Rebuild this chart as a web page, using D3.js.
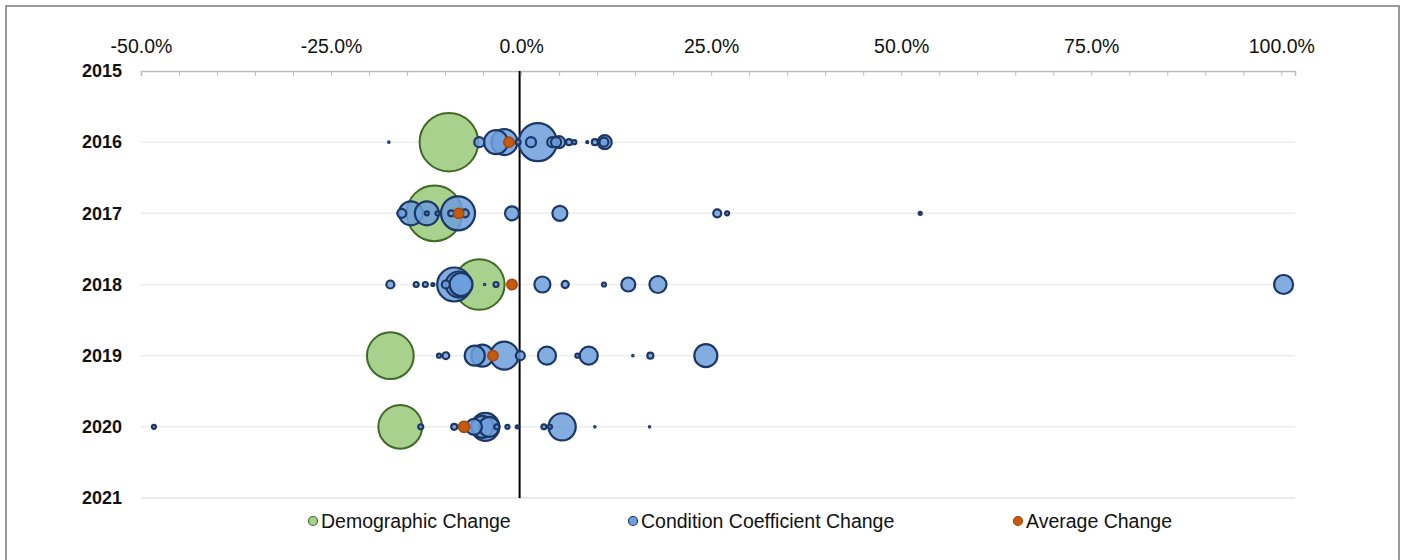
<!DOCTYPE html>
<html>
<head>
<meta charset="utf-8">
<script src="https://cdn.jsdelivr.net/npm/d3@7"></script>
<style>
  body { margin: 0; background: #fff; }
  svg text { font-family: "Liberation Sans", Arial, sans-serif; }
</style>
</head>
<body>
<svg id="chart" width="1405" height="560"></svg>
<script>
// ── DATA ──
const years = [2015, 2016, 2017, 2018, 2019, 2020, 2021];
const xTickLabels = [-50, -25, 0, 25, 50, 75, 100];

// one demographic bubble per year: [% change, weight]
const demographicPct = [-9.5, -11.4, -5.5, -17.2, -15.9];
const demographicSize = [102, 92, 76, 65, 57];
const bubbleYears = [2016, 2017, 2018, 2019, 2020];

// average change per year
const averagePct = [-1.6, -8.2, -1.2, -3.7, -7.5];
const averageSize = [3.2, 3.2, 3.2, 3.2, 3.8];

// condition coefficient change: [% change, weight]
const condition2016 = [
  [-17.4, 0.06], [-5.5, 3.0], [-3.3, 17], [-2.2, 20], [-0.4, 0.74], [1.3, 3.0],
  [2.2, 42.9], [4.1, 3.0], [4.6, 3.0], [5.0, 4.3], [6.3, 1.07], [7.0, 0.48],
  [8.7, 0.12], [9.7, 1.07], [11.0, 5.8], [10.9, 2.4],
];
const condition2017 = [
  [-15.7, 2.4], [-14.5, 17.1], [-12.4, 17.1], [-12.4, 0.48], [-11.0, 0.48],
  [-9.2, 1.07], [-8.3, 34.4], [-7.4, 1.9], [-1.2, 5.8], [5.1, 6.7],
  [25.8, 1.9], [27.1, 0.48], [52.5, 0.27],
];
const condition2018 = [
  [-17.2, 1.9], [-13.8, 0.74], [-12.6, 0.74], [-11.6, 0.27], [-9.9, 1.9],
  [-8.8, 34.4], [-8.2, 20.1], [-7.9, 15.7], [-4.8, 0.06], [-3.3, 0.74],
  [2.8, 7.6], [5.8, 1.5], [10.9, 0.48], [14.1, 5.8], [18.0, 8.6], [100.3, 10.7],
];
const condition2019 = [
  [-10.8, 0.48], [-9.9, 1.4], [-6.1, 11.9], [-5.1, 14.4], [-2.2, 23.3],
  [-0.1, 2.4], [3.4, 9.6], [7.4, 0.48], [8.9, 9.6], [14.7, 0.06],
  [17.0, 1.07], [24.3, 15.7],
];
const condition2020 = [
  [-48.3, 0.48], [-13.2, 0.74], [-8.8, 1.07], [-6.2, 7.6], [-5.1, 14.4],
  [-4.7, 23.3], [-4.2, 11.9], [-3.2, 0.74], [-1.8, 0.48], [-0.5, 0.27],
  [3.0, 0.74], [3.8, 0.48], [5.4, 22], [9.7, 0.06], [16.9, 0.06],
];
const conditionByYear = [condition2016, condition2017, condition2018, condition2019, condition2020];

const legendItems = [
  { label: "Demographic Change", key: "demo" },
  { label: "Condition Coefficient Change", key: "cond" },
  { label: "Average Change", key: "avg" },
];

// ── STYLE ──
const colors = {
  demo: { fill: "#a9d18e", stroke: "#3f6a26" },
  cond: { fill: "#6d9fdc", stroke: "#1c3766" },
  avg: { fill: "#c55a11", stroke: "#a4470b" },
};

const svg = d3.select("#chart");

// outer frame
svg.append("rect")
  .attr("x", 6).attr("y", 6)
  .attr("width", 1393).attr("height", 570)
  .attr("fill", "none")
  .attr("stroke", "#7a7a7a")
  .attr("stroke-width", 1.5);

const x = d3.scaleLinear().domain([-50, 101.8]).range([141, 1295]);
const y = d3.scaleLinear().domain([2015, 2021]).range([71, 498]);
const r = d3.scaleSqrt().domain([0, 100]).range([0, 29]);

// horizontal gridlines
svg.append("g")
  .selectAll("line")
  .data(years.slice(1))
  .enter()
  .append("line")
  .attr("x1", x.range()[0])
  .attr("x2", x.range()[1])
  .attr("y1", (d) => y(d))
  .attr("y2", (d) => y(d))
  .attr("stroke", (d) => (d === 2021 ? "#e3e3e3" : "#ededed"))
  .attr("stroke-width", 1.5);

// top axis: minor ticks every 5%, pointing down
const tickAxis = svg.append("g")
  .attr("transform", `translate(0,${y(2015)})`)
  .call(d3.axisBottom(x).tickValues(d3.range(-50, 101, 5)).tickSize(5).tickFormat(""));
tickAxis.select(".domain").attr("stroke", "#bdbdbd").attr("stroke-width", 1.5);
tickAxis.selectAll(".tick line").attr("stroke", "#bdbdbd");

// percent labels
const labelAxis = svg.append("g")
  .attr("transform", `translate(0,${y(2015)})`)
  .call(d3.axisTop(x).tickValues(xTickLabels).tickSize(0).tickPadding(18)
    .tickFormat((d) => d.toFixed(1) + "%"));
labelAxis.select(".domain").remove();
labelAxis.selectAll("text")
  .attr("font-size", "19.5px")
  .attr("fill", "#111")
  .style("font-family", '"Liberation Sans", Arial, sans-serif');

// year labels
svg.append("g")
  .selectAll("text")
  .data(years)
  .enter()
  .append("text")
  .attr("x", 122)
  .attr("y", (d) => y(d))
  .attr("dy", "0.35em")
  .attr("text-anchor", "end")
  .attr("font-size", "18px")
  .attr("font-weight", "bold")
  .attr("fill", "#111")
  .text((d) => d);

// zero line
svg.append("line")
  .attr("x1", x(0) - 1.5).attr("x2", x(0) - 1.5)
  .attr("y1", y(2015)).attr("y2", y(2021))
  .attr("stroke", "#000")
  .attr("stroke-width", 2);

// bubbles
const demoNodes = bubbleYears.map((yr, i) => ({ year: yr, pct: demographicPct[i], size: demographicSize[i] }));
const condNodes = [];
conditionByYear.forEach((rows, i) => {
  rows.forEach(([pct, size]) => condNodes.push({ year: bubbleYears[i], pct, size }));
});
condNodes.sort((a, b) => b.size - a.size);
const avgNodes = bubbleYears.map((yr, i) => ({ year: yr, pct: averagePct[i], size: averageSize[i] }));

function drawBubbles(nodes, key, strokeW, opacity) {
  svg.append("g")
    .selectAll("circle")
    .data(nodes)
    .enter()
    .append("circle")
    .attr("cx", (d) => x(d.pct))
    .attr("cy", (d) => y(d.year))
    .attr("r", (d) => r(d.size))
    .attr("fill", colors[key].fill)
    .attr("fill-opacity", opacity)
    .attr("stroke", colors[key].stroke)
    .attr("stroke-width", strokeW);
}

drawBubbles(demoNodes, "demo", 2, 1);
drawBubbles(condNodes, "cond", 2.2, 0.85);
drawBubbles(avgNodes, "avg", 1.5, 1);

// legend
const legendX = [313, 633, 1018];
const legend = svg.append("g")
  .selectAll("g")
  .data(legendItems)
  .enter()
  .append("g")
  .attr("transform", (d, i) => `translate(${legendX[i]},521)`);

legend.append("circle")
  .attr("r", 4.5)
  .attr("fill", (d) => colors[d.key].fill)
  .attr("stroke", (d) => colors[d.key].stroke)
  .attr("stroke-width", 1.2);

legend.append("text")
  .attr("x", 8)
  .attr("dy", "0.35em")
  .attr("font-size", "19.5px")
  .attr("fill", "#111")
  .text((d) => d.label);
</script>
</body>
</html>
